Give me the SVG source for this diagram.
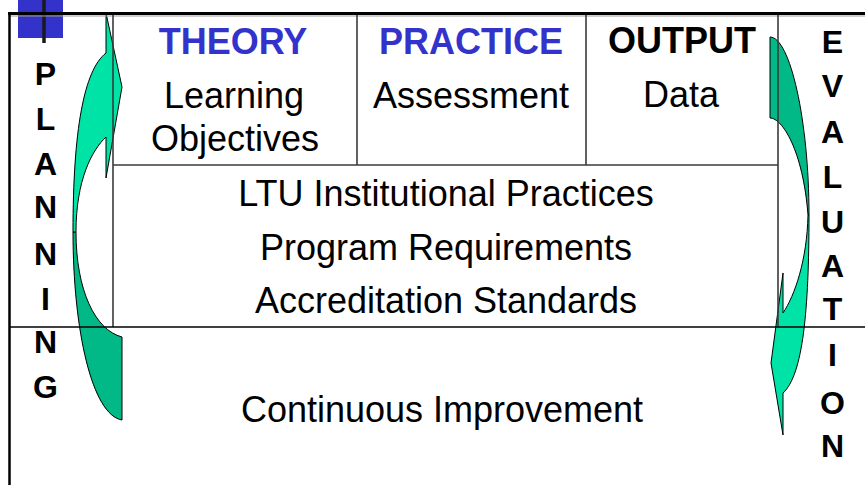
<svg xmlns="http://www.w3.org/2000/svg" width="865" height="485" viewBox="0 0 865 485">
<style>
  .hdr { font-family: "Liberation Sans", Arial, sans-serif; font-weight: bold; font-size: 36px; text-anchor: middle; }
  .blue { fill: #3333CC; }
  .blk { fill: #000000; }
  .txt { font-family: "Liberation Sans", Arial, sans-serif; font-size: 36px; text-anchor: middle; fill: #000000; }
  .vert { font-family: "Liberation Sans", Arial, sans-serif; font-weight: bold; font-size: 32px; text-anchor: middle; fill: #000000; }
  .light { fill: #00E3A6; stroke: #000000; stroke-width: 1; stroke-linejoin: round; }
  .dark { fill: #00B986; stroke: #000000; stroke-width: 1; stroke-linejoin: round; }
  .grid { stroke: #3a3a3a; stroke-width: 1.6; fill: none; }
</style>
<rect width="865" height="485" fill="#ffffff"/>

<!-- corner marker -->
<g id="corner-marker">
  <rect x="18" y="0" width="45" height="38" fill="#3333CC"/>
  <line x1="44" y1="0" x2="44" y2="43" stroke="#1a1a1a" stroke-width="3.5"/>
</g>

<!-- curved arrows -->
<g id="connectors">
  <g id="planning-arrow">
    <path class="dark" d="M73,232 C73,330 92,415 122,420 L122,337 C95,330 76,290 76,232 Z"/>
    <path class="light" d="M106,53 C84,70 73,130 73,232 L76,232 C76,180 92,150 106,137 L106,178 L122,87 L106,13 Z"/>
  </g>
  <g id="evaluation-arrow">
    <path class="dark" d="M770,37 C790,37 809,120 809,215 L808,215 C803,150 782,118 770,118 Z"/>
    <path class="light" d="M809,215 C809,310 803,375 783,393 L783,435 L771,363 L783,273 L783,313 C795,295 807,260 808,215 Z"/>
  </g>
</g>

<!-- frame -->
<g id="frame">
  <line x1="8" y1="13.5" x2="865" y2="13.5" stroke="#000000" stroke-width="3"/>
  <line x1="8" y1="16" x2="865" y2="16" stroke="#9a9a9a" stroke-width="1"/>
  <line x1="9.5" y1="12" x2="9.5" y2="485" stroke="#000000" stroke-width="2.5"/>
  <line class="grid" x1="113" y1="15" x2="113" y2="327"/>
  <line class="grid" x1="357" y1="15" x2="357" y2="165"/>
  <line class="grid" x1="586" y1="15" x2="586" y2="165"/>
  <line class="grid" x1="778" y1="15" x2="778" y2="327"/>
  <line class="grid" x1="113" y1="165" x2="778" y2="165"/>
  <line x1="10" y1="327" x2="865" y2="327" stroke="#000000" stroke-width="1.5"/>
</g>

<g id="theory">
  <text class="hdr blue" x="233" y="54">THEORY</text>
  <text class="txt" x="234" y="108">Learning</text>
  <text class="txt" x="235" y="151">Objectives</text>
</g>

<g id="practice">
  <text class="hdr blue" x="471" y="54">PRACTICE</text>
  <text class="txt" x="471" y="108">Assessment</text>
</g>

<g id="output">
  <text class="hdr blk" x="682" y="53">OUTPUT</text>
  <text class="txt" x="681" y="107">Data</text>
</g>

<g id="institutional">
  <text class="txt" x="446" y="206">LTU Institutional Practices</text>
  <text class="txt" x="446" y="260">Program Requirements</text>
  <text class="txt" x="446" y="313">Accreditation Standards</text>
</g>

<g id="improvement">
  <text class="txt" x="442" y="422">Continuous Improvement</text>
</g>

<g id="planning">
  <text class="vert" x="45.5" y="85">P</text>
  <text class="vert" x="45.5" y="130">L</text>
  <text class="vert" x="45.5" y="175">A</text>
  <text class="vert" x="45.5" y="218">N</text>
  <text class="vert" x="45.5" y="265">N</text>
  <text class="vert" x="45.5" y="310">I</text>
  <text class="vert" x="45.5" y="353">N</text>
  <text class="vert" x="45.5" y="398">G</text>
</g>

<g id="evaluation">
  <text class="vert" x="832.5" y="53">E</text>
  <text class="vert" x="832.5" y="97">V</text>
  <text class="vert" x="832.5" y="143">A</text>
  <text class="vert" x="832.5" y="188">L</text>
  <text class="vert" x="832.5" y="233">U</text>
  <text class="vert" x="832.5" y="277">A</text>
  <text class="vert" x="832.5" y="320">T</text>
  <text class="vert" x="832.5" y="366">I</text>
  <text class="vert" x="832.5" y="414">O</text>
  <text class="vert" x="832.5" y="457">N</text>
</g>
</svg>
